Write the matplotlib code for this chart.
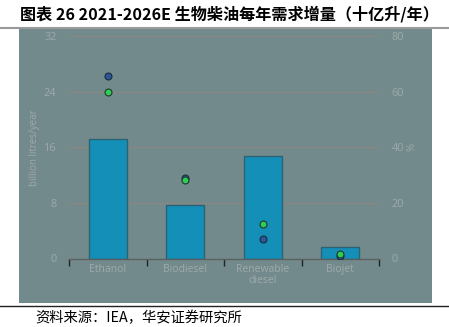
import numpy as np
import matplotlib
matplotlib.use("Agg")
import matplotlib.pyplot as plt
from matplotlib.patches import Rectangle
from matplotlib.lines import Line2D

plt.rcParams['font.family'] = ['Open Sans', 'Noto Sans CJK SC', 'DejaVu Sans']

# ── Data ──────────────────────────────────────────────────────────────────────
categories   = ["Ethanol", "Biodiesel", "Renewable\ndiesel", "Biojet"]
demand_bn_l  = [17.2, 7.75, 14.7, 1.7]     # bars, billion litres/year (left)
share_blue   = [65.6, 29.0, 7.0, 0.9]      # dots, % (right)
share_green  = [60.0, 28.2, 12.5, 1.5]     # dots, % (right)
left_ticks   = [0, 8, 16, 24, 32]
right_ticks  = [0, 20, 40, 60, 80]

TITLE  = "图表 26 2021-2026E 生物柴油每年需求增量（十亿升/年）"
SOURCE = "资料来源：IEA，华安证券研究所"

BG      = '#738a8c'
TXT     = '#9eaaab'
GRID    = '#8a8781'
BAR     = '#1490b8'
BAR_EDG = '#2d6272'

fig = plt.figure(figsize=(4.49, 3.27), dpi=100)
fig.patch.set_facecolor('white')

W, H = 449, 327
def fx(px): return px / W
def fy(py): return 1 - py / H

# gray panel + rules
fig.patches.append(Rectangle((fx(19), fy(303)), fx(432) - fx(19), fy(29) - fy(303),
                             transform=fig.transFigure, facecolor=BG, edgecolor='none', zorder=-5))
fig.lines.append(Line2D([0, 1], [fy(27.5), fy(27.5)], transform=fig.transFigure,
                        color='#9a9a9a', lw=1.5, zorder=-4))
fig.lines.append(Line2D([0, 1], [fy(305.5), fy(305.5)], transform=fig.transFigure,
                        color='#222222', lw=1.0, zorder=-4))

fig.text(fx(20), fy(14), TITLE, fontsize=11.6, fontweight='bold', va='center', ha='left',
         family=['Noto Sans CJK SC', 'DejaVu Sans'])
fig.text(fx(35), fy(318), SOURCE, fontsize=10.3, va='center', ha='left',
         family=['Noto Sans CJK SC', 'DejaVu Sans'])

ax = fig.add_axes([fx(69), fy(258.5), fx(379) - fx(69), fy(36) - fy(258.5)])
ax.set_facecolor('none')
x = np.arange(len(categories))
ax.bar(x, demand_bn_l, width=0.49, color=BAR, edgecolor=BAR_EDG, linewidth=1.0, zorder=2)
ax.set_xlim(-0.5, len(categories) - 0.5)
ax.set_ylim(0, 32)
ax.set_yticks(left_ticks)
ax.grid(axis='y', color=GRID, lw=0.9, zorder=0)
ax.set_axisbelow(True)
for s in ['top', 'right', 'left']:
    ax.spines[s].set_visible(False)
ax.spines['bottom'].set_color('#5a5f60')
ax.spines['bottom'].set_linewidth(1.0)
ax.tick_params(axis='y', length=0, labelsize=7.8, labelcolor=TXT, pad=9)
ax.set_xticks(x)
ax.set_xticklabels(categories, fontsize=7.5, color=TXT, linespacing=1.05)
ax.tick_params(axis='x', length=0, pad=4)
ax.set_xticks(np.arange(-0.5, len(categories)), minor=True)
ax.tick_params(axis='x', which='minor', length=5, width=1.0, color='#222222', direction='out')
ax.set_ylabel("billion litres/year", fontsize=7, color=TXT, labelpad=3)

ax2 = ax.twinx()
ax2.set_ylim(0, 80)
ax2.set_yticks(right_ticks)
for s in ax2.spines.values():
    s.set_visible(False)
ax2.tick_params(axis='y', length=0, labelsize=7.8, labelcolor=TXT, pad=9)
ax2.set_ylabel("%", fontsize=7, color=TXT, labelpad=2)
ax2.plot(x, share_blue, 'o', ms=5, mfc='#2c569a', mec='#1c2b3a', mew=0.8, zorder=3)
ax2.plot(x, share_green, 'o', ms=5, mfc='#2fcc58', mec='#1c3a2a', mew=0.8, zorder=4)

fig.savefig("out.png", dpi=100, facecolor='white')
